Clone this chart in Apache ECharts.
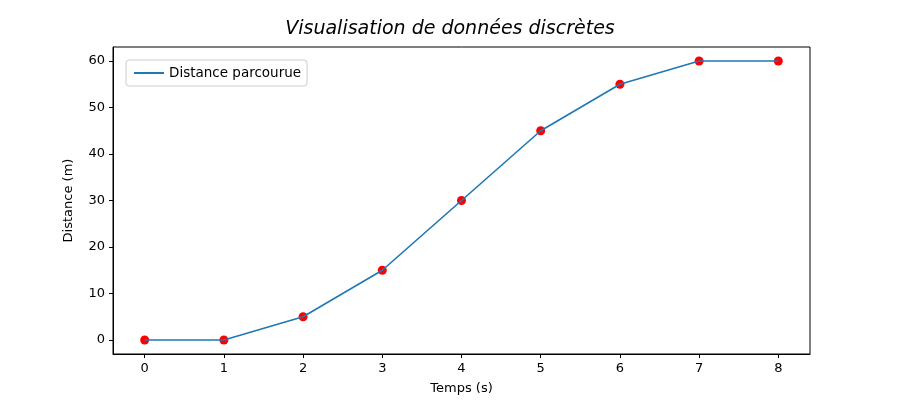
<!DOCTYPE html>
<html>
<head>
<meta charset="utf-8">
<script src="https://cdn.jsdelivr.net/npm/echarts@6/dist/echarts.min.js"></script>
<style>html,body{margin:0;padding:0;background:#fff}#chart{width:900px;height:400px}</style>
</head>
<body>
<div id="chart"></div>
<script>
var temps = [0, 1, 2, 3, 4, 5, 6, 7, 8];
var distance = [0, 0, 5, 15, 30, 45, 55, 60, 60];
var xTicks = [0, 1, 2, 3, 4, 5, 6, 7, 8];
var yTicks = [0, 10, 20, 30, 40, 50, 60];

var chart = echarts.init(document.getElementById('chart'));
var pts = temps.map(function (t, i) { return [t, distance[i]]; });
var font = 'DejaVu Sans';
chart.setOption({
    animation: false,
    title: {
        text: 'Visualisation de données discrètes',
        left: 'center', top: 15,
        textStyle: { fontFamily: font, fontSize: 19, fontStyle: 'italic', fontWeight: 'normal', color: '#000' }
    },
    legend: {
        data: ['Distance parcourue'],
        left: 126, top: 60,
        orient: 'vertical',
        padding: [6, 6, 6, 8],
        borderColor: '#ccc', borderWidth: 1, borderRadius: 3,
        itemWidth: 30, itemHeight: 2,
        icon: 'rect',
        textStyle: { fontFamily: font, fontSize: 13.5, color: '#000' }
    },
    grid: { left: 113, right: 90, top: 47, bottom: 45, show: true, borderColor: '#000', borderWidth: 1 },
    xAxis: {
        type: 'value', min: -0.4, max: 8.4,
        name: 'Temps (s)', nameLocation: 'middle', nameGap: 28,
        nameTextStyle: { fontFamily: font, fontSize: 13, color: '#000' },
        axisLine: { show: true, onZero: false, lineStyle: { color: '#000' } },
        axisTick: { show: true, customValues: xTicks, length: 4, lineStyle: { color: '#000' } },
        axisLabel: { customValues: xTicks, fontFamily: font, fontSize: 13, color: '#000', margin: 8 },
        splitLine: { show: false }
    },
    yAxis: {
        type: 'value', min: -3, max: 63,
        name: 'Distance (m)', nameLocation: 'middle', nameGap: 38,
        nameTextStyle: { fontFamily: font, fontSize: 13, color: '#000' },
        axisLine: { show: true, onZero: false, lineStyle: { color: '#000' } },
        axisTick: { show: true, customValues: yTicks, length: 4, lineStyle: { color: '#000' } },
        axisLabel: { customValues: yTicks, fontFamily: font, fontSize: 13, color: '#000', margin: 8 },
        splitLine: { show: false }
    },
    series: [
        {
            name: 'Distance parcourue', type: 'line', data: pts,
            showSymbol: false, symbol: 'none',
            lineStyle: { color: '#1f77b4', width: 1.6 },
            itemStyle: { color: '#1f77b4' }
        },
        {
            name: 'points', type: 'scatter', data: pts,
            symbolSize: 9, itemStyle: { color: '#ff0000', opacity: 1, borderWidth: 0 }
        }
    ]
});
</script>
</body>
</html>
